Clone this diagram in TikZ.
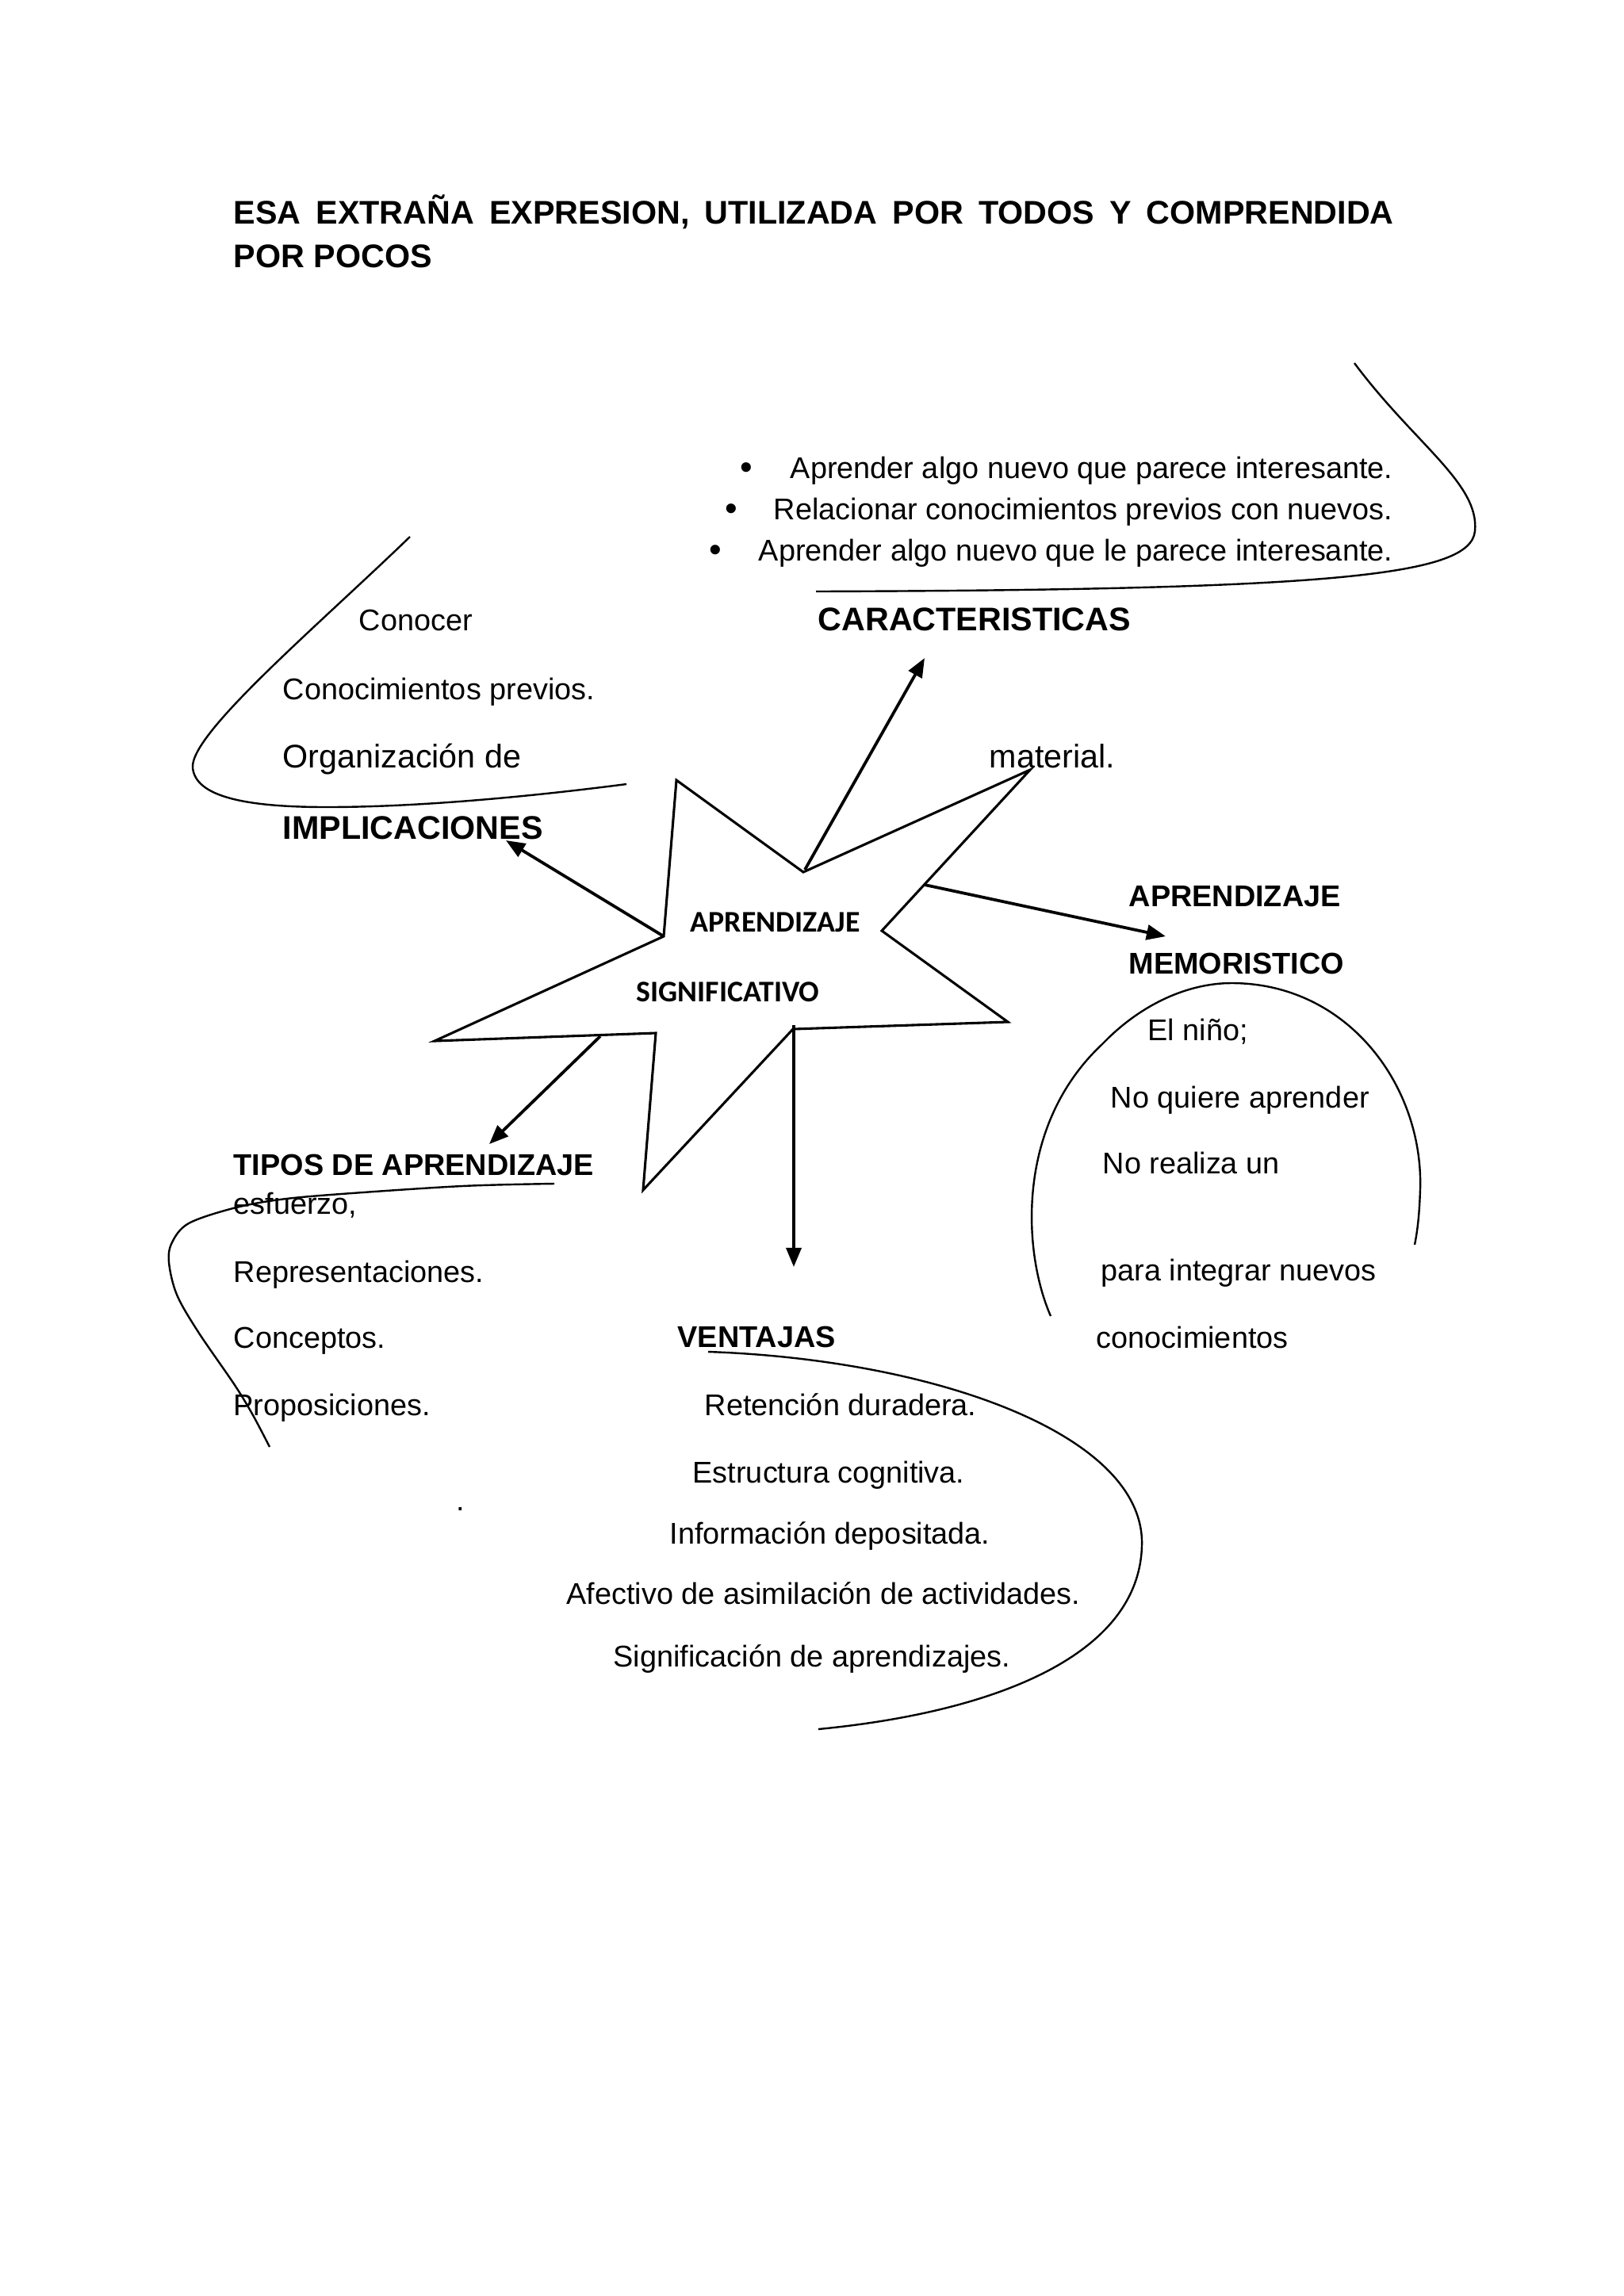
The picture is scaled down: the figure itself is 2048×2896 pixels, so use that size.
\documentclass[tikz,border=0pt]{standalone}
\usepackage{fontspec}
\setmainfont{Liberation Sans}
\newfontfamily\carlito{Carlito}
\usetikzlibrary{arrows.meta}
\begin{document}
\begin{tikzpicture}[x=0.2907pt,y=-0.2907pt,
  txt/.style={anchor=base west, inner sep=0pt, font=\fontsize{11}{13}\selectfont},
  txtr/.style={anchor=base east, inner sep=0pt, font=\fontsize{11}{13}\selectfont},
  txtl/.style={anchor=base west, inner sep=0pt, font=\fontsize{12}{14}\selectfont},
  hd/.style={anchor=base west, inner sep=0pt, font=\fontsize{11}{13}\selectfont\bfseries},
  hdl/.style={anchor=base west, inner sep=0pt, font=\fontsize{12}{14}\selectfont\bfseries},
  bul/.style={anchor=base, inner sep=0pt, font=\fontsize{13}{15}\selectfont},
  startxt/.style={anchor=base west, inner sep=0pt, font=\fontsize{11}{13}\selectfont\carlito\bfseries},
  estrella/.style={line width=0.9pt, line join=miter},
  flecha/.style={line width=1.1pt, -{Triangle[length=7pt,width=5.5pt]}},
  curva/.style={line width=0.7pt}]
\useasboundingbox (0,0) rectangle (2048,2896);
\fill[white] (0,0) rectangle (2048,2896);

% Title
\node[hdl] (t1) at (294,282) {\makebox[425.3pt][s]{ESA EXTRAÑA EXPRESION, UTILIZADA POR TODOS Y COMPRENDIDA}};
\node[hdl] (t2) at (294,337) {POR POCOS};

% Caracteristicas
\node[bul] (b1) at (941,604) {•};
\node[bul] (b2) at (922,656) {•};
\node[bul] (b3) at (902,708) {•};
\node[txtr] (c1) at (1757,603) {Aprender algo nuevo que parece interesante.};
\node[txtr] (c2) at (1757,655) {Relacionar conocimientos previos con nuevos.};
\node[txtr] (c3) at (1757,707) {Aprender algo nuevo que le parece interesante.};
\node[hdl] (carac) at (1031,795) {CARACTERISTICAS};
\draw[curva] (1708,458) .. controls (1784,560) and (1866,610) .. (1860,670)
  .. controls (1854,725) and (1694,744) .. (1029,746);

% Implicaciones
\node[txt] (i1) at (452,795) {Conocer};
\node[txt] (i2) at (356,882) {Conocimientos previos.};
\node[txtl] (i3) at (356,968) {Organización de};
\node[txtl] (i4) at (1247,968) {material.};
\node[hdl] (impl) at (356,1058) {IMPLICACIONES};
\draw[curva] (517,677) .. controls (400,790) and (240,925) .. (243,968)
  .. controls (246,1005) and (310,1018) .. (412,1018)
  .. controls (540,1018) and (690,1002) .. (790,989);

% Star
\coordinate (s1) at (853,984);
\coordinate (s2) at (1013,1100);
\coordinate (s3) at (1299,971);
\coordinate (s4) at (1112,1174);
\coordinate (s5) at (1271,1289);
\coordinate (s6) at (1000,1298);
\coordinate (s7) at (811,1501);
\coordinate (s8) at (827,1303);
\coordinate (s9) at (548,1313);
\coordinate (s10) at (837,1181);
\draw[estrella] (s1) -- (s2) -- (s3) -- (s4) -- (s5) -- (s6) -- (s7) -- (s8) -- (s9) -- (s10) -- cycle;
\node[startxt] (st1) at (870,1175) {APRENDIZAJE};
\node[startxt] (st2) at (802,1263) {SIGNIFICATIVO};

% Arrows
\coordinate (aC0) at (1015,1097);
\coordinate (aC1) at (1166,830);
\coordinate (aI0) at (837,1181);
\coordinate (aI1) at (638,1060);
\coordinate (aT0) at (757,1307);
\coordinate (aT1) at (617,1443);
\coordinate (aV0) at (1001,1293);
\coordinate (aV1) at (1001,1598);
\coordinate (aM0) at (1166,1116);
\coordinate (aM1) at (1470,1181);
\draw[flecha] (aC0) -- (aC1);
\draw[flecha] (aI0) -- (aI1);
\draw[flecha] (aT0) -- (aT1);
\draw[flecha] (aV0) -- (aV1);
\draw[flecha] (aM0) -- (aM1);

% Memoristico
\node[hd] (m1) at (1423,1143) {APRENDIZAJE};
\node[hd] (m2) at (1423,1228) {MEMORISTICO};
\node[txt] (m3) at (1447,1312) {El niño;};
\node[txt] (m4) at (1400,1397) {No quiere aprender};
\node[txt] (m5) at (1390,1480) {No realiza un};
\node[txt] (m6) at (1388,1615) {para integrar nuevos};
\node[txt] (m7) at (1382,1700) {conocimientos};
\draw[curva] (1325,1660) .. controls (1290,1580) and (1280,1420) .. (1390,1317)
  .. controls (1440,1265) and (1500,1240) .. (1553,1240)
  .. controls (1700,1240) and (1795,1370) .. (1791,1500)
  .. controls (1790,1530) and (1788,1550) .. (1784,1570);

% Tipos
\node[hd] (tp) at (294,1482) {TIPOS DE APRENDIZAJE};
\node[txt] (e1) at (294,1531) {esfuerzo,};
\node[txt] (tp1) at (294,1617) {Representaciones.};
\node[txt] (tp2) at (294,1700) {Conceptos.};
\node[txt] (tp3) at (294,1785) {Proposiciones.};
\draw[curva] plot[smooth, tension=0.55] coordinates {(699,1493) (583,1496) (430,1506) (353,1513) (294,1524) (238,1543) (217,1567) (213,1592) (223,1633) (250,1680) (296,1747) (319,1785) (340,1825)};
\node[txt] (dot) at (575,1905) {.};

% Ventajas
\node[hd] (v) at (854,1699) {VENTAJAS};
\node[txt] (v1) at (888,1785) {Retención duradera.};
\node[txt] (v2) at (873,1870) {Estructura cognitiva.};
\node[txt] (v3) at (844,1947) {Información depositada.};
\node[txt] (v4) at (714,2023) {Afectivo de asimilación de actividades.};
\node[txt] (v5) at (773,2102) {Significación de aprendizajes.};
\draw[curva] (893,1705) .. controls (1180,1715) and (1445,1810) .. (1440,1950)
  .. controls (1436,2090) and (1250,2160) .. (1032,2181);
\end{tikzpicture}
\end{document}
